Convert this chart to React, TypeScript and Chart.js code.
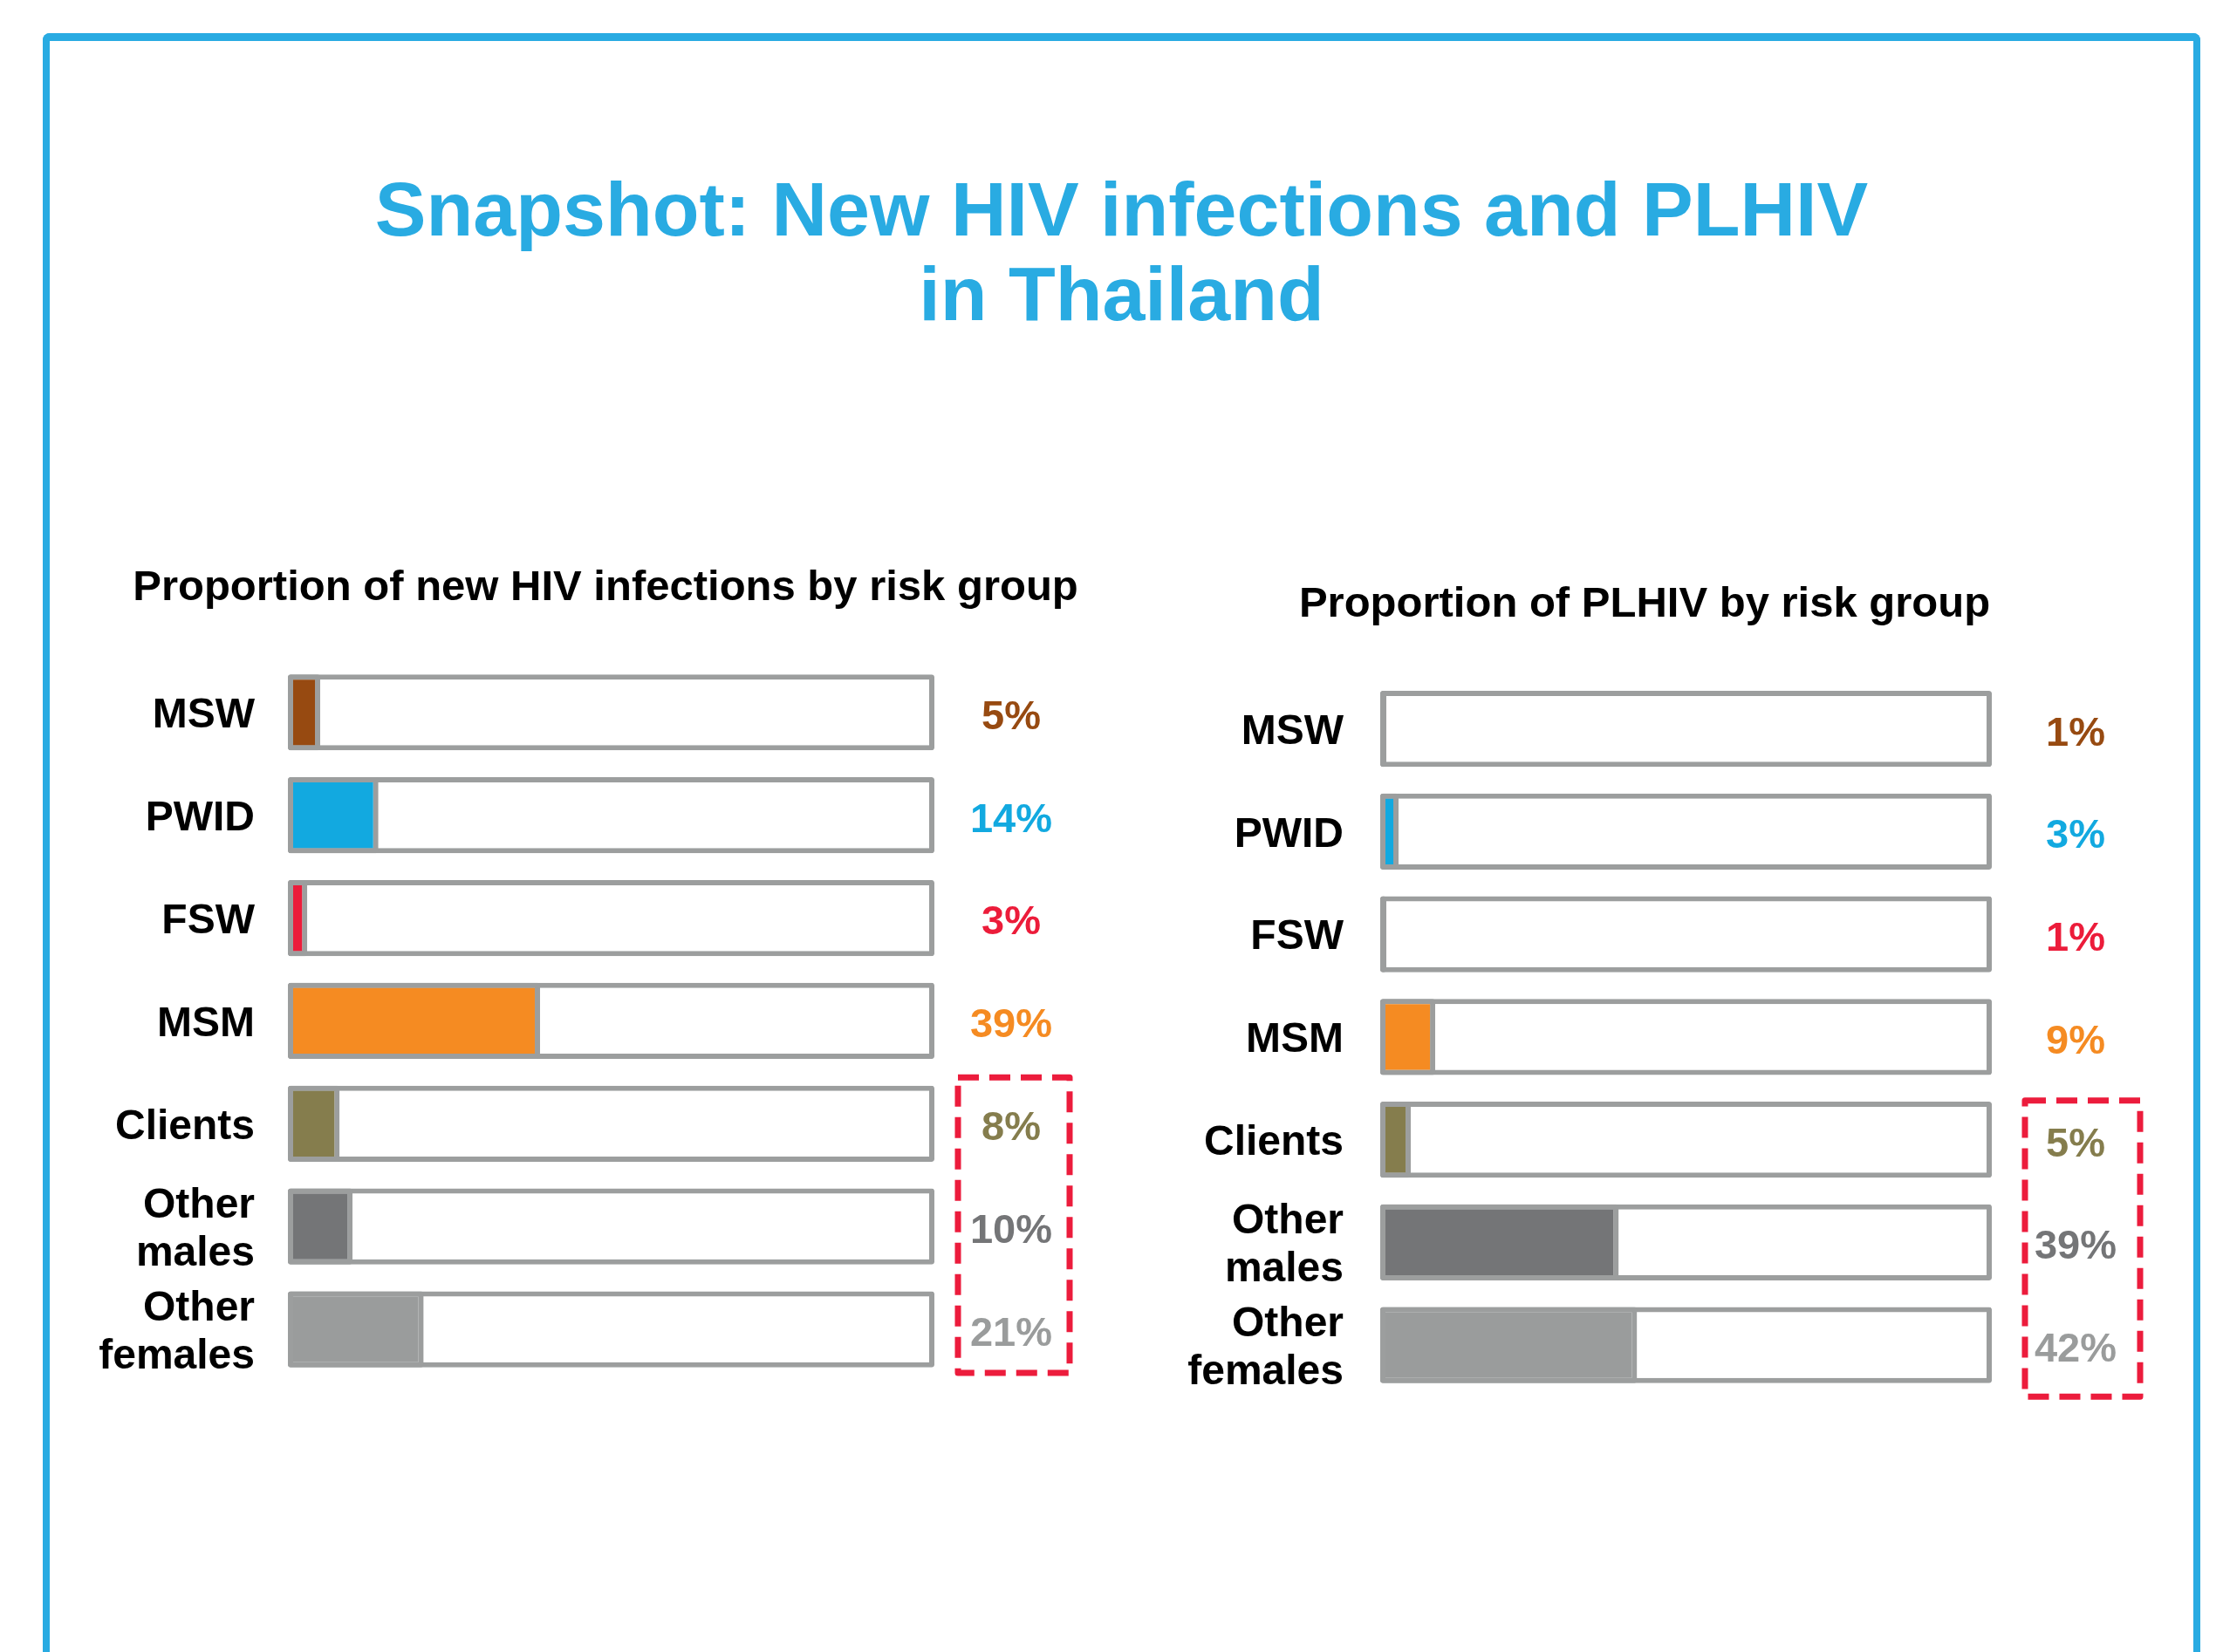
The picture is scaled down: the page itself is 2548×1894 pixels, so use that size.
import React, { useEffect, useRef } from "react";
import { Chart, registerables } from "chart.js";

Chart.register(...registerables);

// ---------- data ----------
const categories: (string | string[])[] = [
  "MSW",
  "PWID",
  "FSW",
  "MSM",
  "Clients",
  ["Other", "males"],
  ["Other", "females"],
];
const newInfectionShares = [5, 14, 3, 39, 8, 10, 21];
const plhivShares = [1, 3, 1, 9, 5, 39, 42];
const trackValues = [100, 100, 100, 100, 100, 100, 100];
const groupColors = [
  "#974a11",
  "#12a9e0",
  "#ec1c3a",
  "#f58b22",
  "#857d4d",
  "#747577",
  "#9a9c9c",
];
const mainTitleLines = ["Snapshot: New HIV infections and PLHIV", "in Thailand"];
const leftTitle = "Proportion of new HIV infections by risk group";
const rightTitle = "Proportion of PLHIV by risk group";

// ---------- styles ----------
const FONT = '"Liberation Sans", Arial, Helvetica, sans-serif';
const TRACK_GRAY = "#9c9e9e";
const DASH_RED = "#ec1c3c";
const BLUE = "#29abe2";

const valueLabelPlugin = {
  id: "valueLabels",
  afterDatasetsDraw(chart: any, _args: any, opts: any) {
    const { ctx, chartArea } = chart;
    const y = chart.scales.y;
    ctx.save();
    ctx.font = `bold 47px ${FONT}`;
    ctx.textAlign = "center";
    ctx.textBaseline = "middle";
    const vals: number[] = opts.values;
    const cols: string[] = opts.colors;
    vals.forEach((v, i) => {
      ctx.fillStyle = cols[i];
      ctx.fillText(`${v}%`, chartArea.right + opts.offset, y.getPixelForValue(i) + 6);
    });
    const b = opts.box;
    ctx.strokeStyle = DASH_RED;
    ctx.lineWidth = 7;
    ctx.setLineDash([24, 12]);
    ctx.lineJoin = "round";
    const top = y.getPixelForValue(b.from) + b.top;
    const bottom = y.getPixelForValue(b.to) + b.bottom;
    ctx.strokeRect(chartArea.right + b.x0, top, b.x1 - b.x0, bottom - top);
    ctx.restore();
  },
};

type PanelProps = {
  left: number;
  top: number;
  width: number;
  height: number;
  title: string;
  values: number[];
  axisWidth: number;
  tickPad: number;
  rightSpace: number;
  padBottom: number;
  valueOffset: number;
  box: { from: number; to: number; top: number; bottom: number; x0: number; x1: number };
};

function Panel(p: PanelProps) {
  const ref = useRef<HTMLCanvasElement | null>(null);
  useEffect(() => {
    if (!ref.current) return;
    const barStyle = {
      borderColor: TRACK_GRAY,
      borderWidth: 6,
      borderSkipped: false,
      borderRadius: 3,
      barPercentage: 0.74,
      categoryPercentage: 1,
      grouped: false,
    };
    const chart = new Chart(ref.current, {
      type: "bar",
      data: {
        labels: categories as any,
        datasets: [
          { ...barStyle, data: p.values, backgroundColor: groupColors, order: 0 } as any,
          { ...barStyle, data: trackValues, backgroundColor: "#ffffff", order: 1 } as any,
        ],
      },
      options: {
        indexAxis: "y",
        animation: false,
        responsive: false,
        devicePixelRatio: 1,
        layout: { padding: { left: 0, right: 0, top: 0, bottom: p.padBottom } },
        scales: {
          x: { display: false, min: 0, max: 100 },
          y: {
            afterFit: (s: any) => {
              s.width = p.axisWidth;
              s.paddingTop = 0;
              s.paddingBottom = 0;
            },
            grid: { display: false, drawTicks: false },
            border: { display: false },
            ticks: {
              autoSkip: false,
              padding: p.tickPad,
              labelOffset: 4,
              color: "#000000",
              font: { family: FONT, size: 48, weight: "bold", lineHeight: 1.15 },
            },
          },
          ySpace: {
            type: "category",
            position: "right",
            display: true,
            afterFit: (s: any) => {
              s.width = p.rightSpace;
              s.paddingTop = 0;
              s.paddingBottom = 0;
            },
            grid: { display: false, drawTicks: false },
            border: { display: false },
            ticks: { display: false },
          },
        } as any,
        plugins: {
          legend: { display: false },
          tooltip: { enabled: false },
          title: {
            display: true,
            text: p.title,
            color: "#000000",
            font: { family: FONT, size: 49, weight: "bold", lineHeight: 1.2 },
            padding: { top: 13, bottom: 54 },
          },
          valueLabels: {
            values: p.values,
            colors: groupColors,
            offset: p.valueOffset,
            box: p.box,
          },
        } as any,
      },
      plugins: [valueLabelPlugin],
    });
    return () => chart.destroy();
  }, []);
  return (
    <canvas
      ref={ref}
      width={p.width}
      height={p.height}
      style={{ position: "absolute", left: p.left, top: p.top, width: p.width, height: p.height }}
    />
  );
}

export default function App() {
  return (
    <div
      style={{
        position: "absolute",
        left: 0,
        top: 0,
        width: 2548,
        height: 1894,
        overflow: "hidden",
        background: "#ffffff",
      }}
    >
      <div
        style={{
          position: "absolute",
          left: 49,
          top: 38,
          width: 2473,
          height: 1950,
          boxSizing: "border-box",
          borderTop: `9px solid ${BLUE}`,
          borderLeft: `8px solid ${BLUE}`,
          borderRight: `8px solid ${BLUE}`,
          borderRadius: "8px 8px 0 0",
        }}
      />
      <div
        style={{
          position: "absolute",
          left: 49,
          width: 2473,
          top: 191,
          textAlign: "center",
          fontFamily: FONT,
          fontWeight: "bold",
          fontSize: 88,
          lineHeight: "97px",
          color: BLUE,
        }}
      >
        {mainTitleLines.map((l, i) => (
          <div key={i}>{l}</div>
        ))}
      </div>
      <Panel
        left={100}
        top={632}
        width={1188}
        height={960}
        title={leftTitle}
        values={newInfectionShares}
        axisWidth={230}
        tickPad={38}
        rightSpace={217}
        padBottom={9}
        valueOffset={88}
        box={{ from: 4, to: 6, top: -53, bottom: 50, x0: 27, x1: 155 }}
      />
      <Panel
        left={1300}
        top={651}
        width={1170}
        height={960}
        title={rightTitle}
        values={plhivShares}
        axisWidth={282}
        tickPad={42}
        rightSpace={187}
        padBottom={10}
        valueOffset={96}
        box={{ from: 4, to: 6, top: -45, bottom: 59, x0: 38, x1: 170 }}
      />
    </div>
  );
}
